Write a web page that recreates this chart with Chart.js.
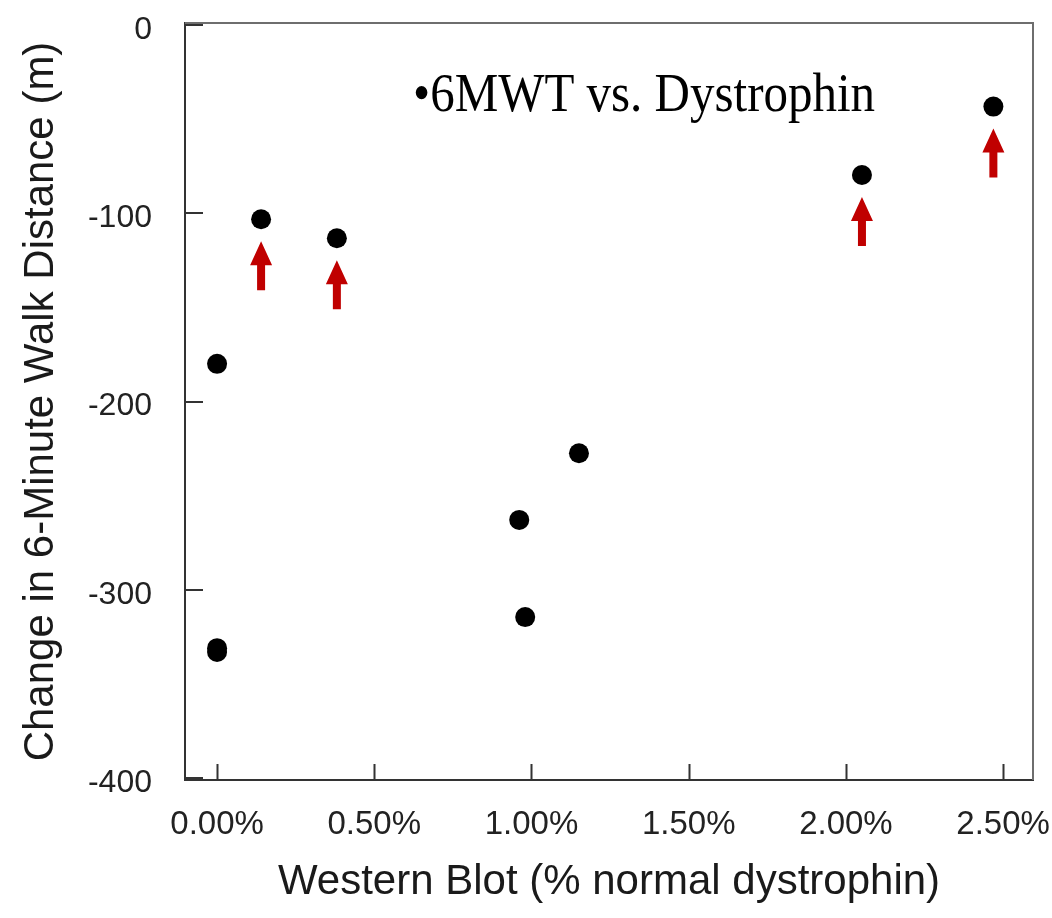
<!DOCTYPE html>
<html>
<head>
<meta charset="utf-8">
<style>
  html, body { margin: 0; padding: 0; background: #ffffff; }
  #wrap { width: 1052px; height: 918px; }
</style>
<script src="https://cdn.jsdelivr.net/npm/chart.js@4/dist/chart.umd.min.js"></script>
</head>
<body>
<div id="wrap"><canvas id="c" width="1052" height="918"></canvas></div>
<script>
// Western blot dystrophin (% of normal) vs. change in 6-minute walk distance (m)
const dystrophinPct = [0.000, 0.000, 0.000, 0.140, 0.381, 0.961, 0.980, 1.151, 2.051, 2.469];
const walkChange    = [-180, -331, -333, -103.2, -113.3, -262.9, -314.5, -227.5, -79.7, -43.4];
// patients flagged with an upward arrow
const flagged       = [false, false, false, true, true, false, false, false, true, true];

const xTickValues = [0, 0.5, 1.0, 1.5, 2.0, 2.5];
const yTickValues = [-400, -300, -200, -100, 0];

const headline = '\u20226MWT vs. Dystrophin';
const xTitle = 'Western Blot (% normal dystrophin)';
const yTitle = 'Change in 6-Minute Walk Distance (m)';

const points = dystrophinPct.map((x, i) => ({ x: x, y: walkChange[i] }));

const sansFont = '"Liberation Sans", Arial, Helvetica, sans-serif';

// frame, inward tick marks, arrows and headline
const decorations = {
  id: 'decorations',
  afterDatasetsDraw(chart) {
    const ctx = chart.ctx;
    const area = chart.chartArea;
    const xs = chart.scales.x, ys = chart.scales.y;
    ctx.save();

    // top and right frame edges
    ctx.strokeStyle = '#6e6e6e';
    ctx.lineWidth = 2;
    ctx.beginPath();
    ctx.moveTo(area.left, area.top);
    ctx.lineTo(area.right, area.top);
    ctx.lineTo(area.right, area.bottom);
    ctx.stroke();

    // inward tick marks
    ctx.strokeStyle = '#333333';
    ctx.lineWidth = 2;
    ctx.beginPath();
    xTickValues.forEach(v => {
      const px = Math.round(xs.getPixelForValue(v)) + 0.5;
      ctx.moveTo(px, area.bottom);
      ctx.lineTo(px, area.bottom - 16);
    });
    yTickValues.forEach(v => {
      const py = Math.round(ys.getPixelForValue(v));
      ctx.moveTo(area.left, py);
      ctx.lineTo(area.left + 18, py);
    });
    ctx.stroke();

    // upward red arrows beneath the flagged points
    const meta = chart.getDatasetMeta(0);
    ctx.fillStyle = '#c00000';
    meta.data.forEach((el, i) => {
      if (!flagged[i]) return;
      const cx = el.x;
      const tip = el.y + 22;
      const tail = el.y + 71;
      const headH = 24, headHalf = 11, shaftHalf = 4;
      ctx.beginPath();
      ctx.moveTo(cx, tip);
      ctx.lineTo(cx + headHalf, tip + headH);
      ctx.lineTo(cx + shaftHalf, tip + headH);
      ctx.lineTo(cx + shaftHalf, tail);
      ctx.lineTo(cx - shaftHalf, tail);
      ctx.lineTo(cx - shaftHalf, tip + headH);
      ctx.lineTo(cx - headHalf, tip + headH);
      ctx.closePath();
      ctx.fill();
    });

    // headline inside the plot
    ctx.fillStyle = '#000000';
    ctx.font = '54px "Liberation Serif", "Times New Roman", serif';
    ctx.textAlign = 'left';
    ctx.textBaseline = 'alphabetic';
    ctx.fillText(headline, 413, 111, 462);

    ctx.restore();
  }
};

new Chart(document.getElementById('c'), {
  type: 'scatter',
  data: {
    datasets: [{
      data: points,
      backgroundColor: '#000000',
      borderColor: '#000000',
      borderWidth: 0,
      pointRadius: 10,
      pointHoverRadius: 10
    }]
  },
  options: {
    responsive: false,
    animation: false,
    devicePixelRatio: 1,
    events: [],
    layout: { padding: { top: 23, right: 19, left: 0, bottom: 0 } },
    plugins: {
      legend: { display: false },
      tooltip: { enabled: false },
      title: { display: false }
    },
    scales: {
      x: {
        type: 'linear',
        min: -0.102,
        max: 2.595,
        afterBuildTicks: s => { s.ticks = xTickValues.map(v => ({ value: v })); },
        afterFit: s => { s.height = 138; s.paddingLeft = 0; s.paddingRight = 0; },
        grid: { display: false, drawTicks: false },
        border: { display: true, color: '#333333', width: 2 },
        ticks: {
          padding: 25,
          color: '#222222',
          font: { family: sansFont, size: 33 },
          maxRotation: 0,
          callback: v => v.toFixed(2) + '%'
        },
        title: {
          display: true,
          text: xTitle,
          color: '#1a1a1a',
          font: { family: sansFont, size: 42 },
          padding: { top: 0, bottom: 10 }
        }
      },
      y: {
        type: 'linear',
        min: -401,
        max: 1,
        afterBuildTicks: s => { s.ticks = yTickValues.map(v => ({ value: v })); },
        afterFit: s => { s.width = 185; s.paddingTop = 0; s.paddingBottom = 0; },
        grid: { display: false, drawTicks: false },
        border: { display: true, color: '#333333', width: 2 },
        ticks: {
          padding: 33,
          labelOffset: 5,
          color: '#222222',
          font: { family: sansFont, size: 32 },
          callback: v => String(v)
        },
        title: {
          display: true,
          text: yTitle,
          color: '#1a1a1a',
          font: { family: sansFont, size: 42 },
          padding: { top: 16, bottom: 0 }
        }
      }
    }
  },
  plugins: [decorations]
});
</script>
</body>
</html>
